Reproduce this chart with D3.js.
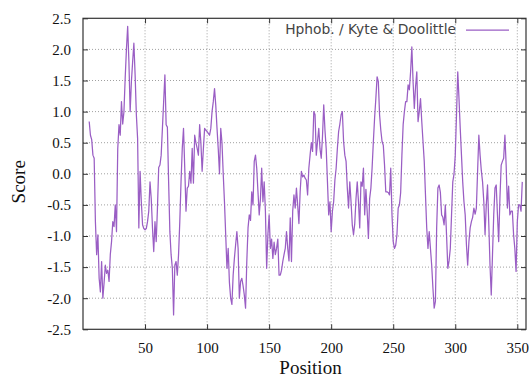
<!DOCTYPE html>
<html><head><meta charset="utf-8">
<script src="https://cdn.jsdelivr.net/npm/d3@7"></script>
<style>
html,body{margin:0;padding:0;background:#fff;}
svg{display:block;}
</style></head>
<body>
<svg id="chart" width="529" height="379"></svg>
<script>
const startPosition = 5;
const scores = [
 0.84,0.62,0.55,0.30,0.25,-0.77,-1.30,-0.98,-1.68,-1.90,
 -1.41,-2.00,-1.75,-1.47,-1.60,-1.55,-1.73,-1.30,-1.09,-0.77,
 -0.85,-0.50,-0.93,0.40,0.79,0.62,1.16,0.80,1.00,1.54,
 2.00,2.37,1.80,1.00,1.48,1.80,2.10,1.59,0.95,0.57,
 -0.87,0.04,-0.45,-0.82,-0.88,-0.90,-0.88,-0.77,-0.60,-0.13,
 -0.40,-0.87,-1.25,-0.77,-1.09,-0.55,0.10,0.14,0.30,0.73,
 1.16,1.59,0.79,0.75,-0.13,-0.93,-1.30,-1.52,-2.27,-1.47,
 -1.41,-1.63,-1.30,-0.77,-0.13,0.41,0.73,0.09,-0.60,-0.23,
 -0.20,0.04,-0.15,0.41,-0.15,0.62,0.50,0.41,0.30,0.79,
 0.50,0.04,0.40,0.73,0.70,0.68,0.65,0.62,0.73,1.00,
 1.16,1.37,1.10,0.73,0.40,0.00,0.73,0.50,0.00,-0.45,
 -0.98,-1.52,-1.20,-1.75,-2.00,-2.10,-1.63,-1.36,-1.14,-0.93,
 -1.20,-2.00,-1.73,-1.68,-1.80,-1.95,-2.16,-1.41,-0.87,-0.66,
 -0.75,-0.29,-0.50,0.20,0.30,0.09,-0.29,-0.66,-0.40,0.09,
 -0.45,-0.13,-0.60,-1.52,-0.98,-0.66,-1.20,-1.05,-1.36,-1.10,
 -1.30,-1.20,-1.05,-1.63,-1.63,-1.55,-1.41,-1.30,-1.20,-0.93,
 -1.20,-1.40,-0.71,-1.41,-0.60,-0.34,-0.55,-0.23,-0.50,-0.80,
 -0.29,0.04,-0.05,-0.02,-0.07,-0.10,-0.34,0.09,0.30,0.50,
 0.36,1.00,0.95,0.30,0.52,0.73,0.40,0.25,0.60,1.11,
 0.70,0.40,-0.13,-0.66,-0.45,-0.93,-0.60,-0.45,-0.10,0.09,
 0.41,0.68,0.80,0.95,1.00,0.52,0.30,0.20,-0.23,-0.55,
 -0.13,-0.45,-0.82,-0.98,-0.80,-0.40,-0.13,-0.45,-0.87,-0.13,
 -0.20,0.09,-0.66,-0.25,-0.60,-1.04,-0.40,-0.23,0.10,0.52,
 0.90,1.21,1.56,1.48,0.95,0.70,0.52,0.46,0.14,-0.29,
 -0.29,-0.30,-0.34,0.09,-0.66,-1.09,-1.20,-1.15,-0.98,-0.55,
 -0.50,-0.30,0.30,0.79,1.00,1.16,1.16,1.43,1.35,1.64,
 2.04,1.48,1.05,1.40,1.64,0.84,1.00,1.21,0.84,0.52,
 0.20,-0.34,-0.87,-1.20,-0.93,-1.20,-1.47,-1.84,-2.16,-2.05,
 -0.87,-0.23,-0.18,-0.30,-0.66,-0.70,-0.82,-0.50,-1.00,-1.52,
 -1.40,-1.20,-0.66,-0.13,0.00,0.30,0.95,1.64,1.21,0.73,
 0.30,-0.13,-0.45,-0.66,-1.14,-1.47,-1.09,-0.87,-0.77,-0.70,
 -0.55,-0.65,-0.55,0.04,0.62,0.30,0.05,-0.13,-0.45,-0.98,
 -0.50,-0.18,-0.80,-1.47,-1.95,-1.30,-0.66,-0.23,-0.18,-0.66,
 -1.09,-0.39,0.14,0.20,0.25,0.62,0.14,-0.55,-0.20,-0.66,
 -0.60,-0.60,-0.98,-1.20,-1.57,-0.77,-0.50,-0.50,-0.60,-0.13
];
const xTicks = [50,100,150,200,250,300,350];
const yTicks = [-2.5,-2.0,-1.5,-1.0,-0.5,0.0,0.5,1.0,1.5,2.0,2.5];
const xLabel = "Position";
const yLabel = "Score";
const legendLabel = "Hphob. / Kyte & Doolittle";

const data = scores.map((v,i)=>({pos: startPosition + i, score: v}));

const L = 83, R = 526, T = 18.3, B = 329.3;
const lineColor = "#9a5ec4";
const svg = d3.select("#chart");
const x = d3.scaleLinear().domain([0,357]).range([L,R]);
const y = d3.scaleLinear().domain([-2.5,2.5]).range([B,T]);
const fmt = v => d3.format(".1f")(v).replace("\u2212","-");

// grid
const grid = svg.append("g");
grid.selectAll("line.gx").data(xTicks).join("line")
  .attr("x1",d=>x(d)).attr("x2",d=>x(d)).attr("y1",T).attr("y2",B)
  .attr("stroke","#a0a0a0").attr("stroke-width",1).attr("stroke-dasharray","1,2");
grid.selectAll("line.gy").data(yTicks.slice(1,-1)).join("line")
  .attr("x1",L).attr("x2",R).attr("y1",d=>y(d)).attr("y2",d=>y(d))
  .attr("stroke","#a0a0a0").attr("stroke-width",1).attr("stroke-dasharray","1,2");

// axes
const ax = svg.append("g").attr("transform",`translate(0,${B})`)
  .call(d3.axisBottom(x).tickValues(xTicks).tickSizeInner(-5).tickSizeOuter(0).tickPadding(10));
const axTop = svg.append("g").attr("transform",`translate(0,${T})`)
  .call(d3.axisTop(x).tickValues(xTicks).tickSizeInner(-5).tickSizeOuter(0).tickFormat(""));
const ay = svg.append("g").attr("transform",`translate(${L},0)`)
  .call(d3.axisLeft(y).tickValues(yTicks).tickFormat(fmt).tickSizeInner(-5).tickSizeOuter(0).tickPadding(12));
const ayR = svg.append("g").attr("transform",`translate(${R},0)`)
  .call(d3.axisRight(y).tickValues(yTicks).tickSizeInner(-5).tickSizeOuter(0).tickFormat(""));
[ax,axTop,ay,ayR].forEach(g=>{
  g.select(".domain").remove();
  g.selectAll(".tick line").attr("stroke","#333").attr("stroke-width",1);
  g.selectAll("text").attr("font-family","'Liberation Serif', 'Times New Roman', serif")
    .attr("font-size",15).attr("fill","#111");
});
ax.selectAll("text").attr("dy","0.9em");

// line
svg.append("path").datum(data)
  .attr("fill","none").attr("stroke",lineColor).attr("stroke-width",1.25)
  .attr("stroke-linejoin","round")
  .attr("d", d3.line().x(d=>x(d.pos)).y(d=>y(d.score)));

// frame
svg.append("rect").attr("x",L).attr("y",T).attr("width",R-L).attr("height",B-T)
  .attr("fill","none").attr("stroke","#333").attr("stroke-width",1.2);

// labels
svg.append("text").attr("x",(L+R)/2+6).attr("y",374).attr("text-anchor","middle")
  .attr("font-family","'Liberation Serif', 'Times New Roman', serif").attr("font-size",19)
  .attr("fill","#111").text(xLabel);
svg.append("text").attr("transform",`translate(25,${(T+B)/2+8}) rotate(-90)`)
  .attr("text-anchor","middle")
  .attr("font-family","'Liberation Serif', 'Times New Roman', serif").attr("font-size",19)
  .attr("fill","#111").text(yLabel);

// legend
svg.append("text").attr("x",456).attr("y",34).attr("text-anchor","end")
  .attr("font-family","'DejaVu Sans', sans-serif").attr("font-size",13.8)
  .attr("fill","#444").text(legendLabel);
svg.append("line").attr("x1",466).attr("x2",509).attr("y1",30).attr("y2",30)
  .attr("stroke",lineColor).attr("stroke-width",1.25);
</script>
</body></html>
